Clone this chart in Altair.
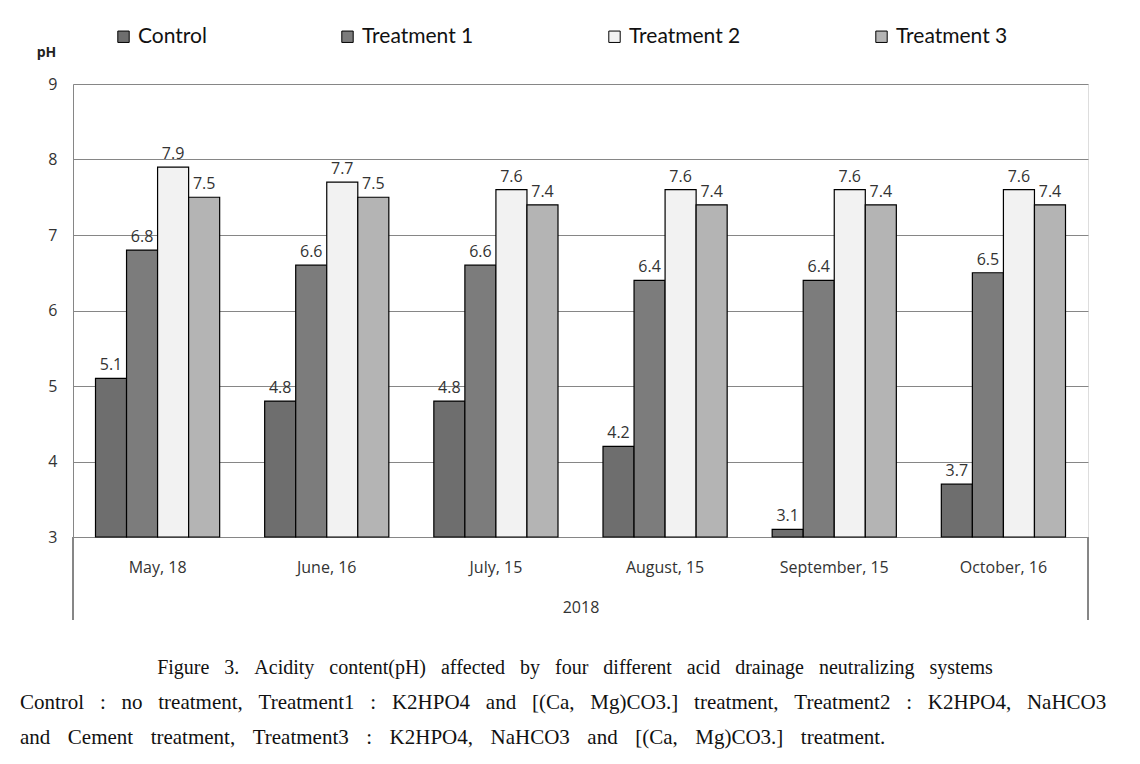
import altair as alt
import pandas as pd

months = ["May, 18", "June, 16", "July, 15", "August, 15", "September, 15", "October, 16"]
series = ["Control", "Treatment 1", "Treatment 2", "Treatment 3"]
control = [5.1, 4.8, 4.8, 4.2, 3.1, 3.7]
treatment1 = [6.8, 6.6, 6.6, 6.4, 6.4, 6.5]
treatment2 = [7.9, 7.7, 7.6, 7.6, 7.6, 7.6]
treatment3 = [7.5, 7.5, 7.4, 7.4, 7.4, 7.4]
fills = ["#6e6e6e", "#7c7c7c", "#f2f2f2", "#b4b4b4"]
y_ticks = [3, 4, 5, 6, 7, 8, 9]

caption_lines = [
    "Figure 3. Acidity content(pH) affected by four different acid drainage neutralizing systems",
    "Control : no treatment, Treatment1 : K2HPO4 and [(Ca, Mg)CO3.] treatment, Treatment2 : K2HPO4, NaHCO3",
    "and Cement treatment, Treatment3 : K2HPO4, NaHCO3 and [(Ca, Mg)CO3.] treatment.",
]
gap_fill = [" \u00a0\u00a0", " \u00a0\u00a0", " \u00a0\u00a0\u200a"]

rows = []
for s, vals in zip(series, [control, treatment1, treatment2, treatment3]):
    for m, v in zip(months, vals):
        rows.append({"month": m, "series": s, "pH": v})
df = pd.DataFrame(rows)

W, H = 1015, 453
SANS = "Open Sans"

x_enc = alt.X("month:N", sort=months,
              scale=alt.Scale(paddingInner=0.266, paddingOuter=0.133),
              axis=alt.Axis(title="2018", labelPadding=22, titlePadding=24,
                            ticks=False, domainColor="#868686", labelAngle=0,
                            labelFont=SANS, labelFontSize=16, labelColor="#333333",
                            titleFont=SANS, titleFontSize=16, titleFontWeight="normal",
                            titleColor="#333333"))
xo_enc = alt.XOffset("series:N", sort=series, scale=alt.Scale(paddingInner=0, paddingOuter=0))
y_enc = alt.Y("pH:Q", scale=alt.Scale(domain=[3, 9], zero=False, nice=False),
              axis=alt.Axis(values=y_ticks, format="d", title="pH", titleAngle=0,
                            titleX=-27, titleY=-25,
                            titleAlign="center", titleFont=SANS, titleFontSize=14,
                            titleFontWeight="bold", titleColor="#222222",
                            ticks=False, labelPadding=16, domainColor="#868686",
                            gridColor="#868686", labelFont=SANS, labelFontSize=16,
                            labelColor="#333333"))

bars = alt.Chart(df).mark_bar(stroke="black", strokeWidth=1.2).encode(
    x=x_enc, xOffset=xo_enc, y=y_enc, y2=alt.datum(3),
    fill=alt.Fill("series:N", sort=series,
                  scale=alt.Scale(domain=series, range=fills),
                  legend=alt.Legend(title=None, orient="none", direction="horizontal",
                                    legendX=40, legendY=-58, columns=4, columnPadding=130,
                                    symbolType="square", symbolSize=130,
                                    symbolStrokeColor="black", symbolStrokeWidth=1,
                                    labelFont="Lato", labelFontSize=21, labelColor="#111111",
                                    labelOffset=4)),
)

labels = alt.Chart(df).mark_text(baseline="bottom", dy=-5, font=SANS, fontSize=16,
                                 color="#333333").encode(
    x=alt.X("month:N", sort=months), xOffset=alt.XOffset("series:N", sort=series),
    y="pH:Q", text=alt.Text("pH:Q", format=".1f"),
)

left_line = alt.Chart(df).mark_rule(color="#868686").encode(
    x=alt.value(0), y=alt.value(H), y2=alt.value(H + 83))
right_line = alt.Chart(df).mark_rule(color="#868686").encode(
    x=alt.value(W), y=alt.value(H), y2=alt.value(H + 83))

cap_df = pd.DataFrame({"line": [l.replace(" ", g) for l, g in zip(caption_lines, gap_fill)],
                       "idx": [0, 1, 2]})
cap1 = alt.Chart(cap_df[cap_df.idx == 0]).mark_text(
    font="Liberation Serif", fontSize=20, color="#111111", align="center", baseline="middle"
).encode(text="line:N", x=alt.value(502), y=alt.value(584))
cap2 = alt.Chart(cap_df[cap_df.idx == 1]).mark_text(
    font="Liberation Serif", fontSize=21, color="#111111", align="left", baseline="middle"
).encode(text="line:N", x=alt.value(-53), y=alt.value(619))
cap3 = alt.Chart(cap_df[cap_df.idx == 2]).mark_text(
    font="Liberation Serif", fontSize=21, color="#111111", align="left", baseline="middle"
).encode(text="line:N", x=alt.value(-53), y=alt.value(654))

chart = alt.layer(bars, labels, left_line, right_line, cap1, cap2, cap3).properties(
    width=W, height=H,
    autosize=alt.AutoSizeParams(type="none"),
    padding={"left": 65, "top": 76, "right": 44, "bottom": 219},
).configure_view(stroke=None).configure(background="white")

chart.save("out.html", embed_options={"renderer": "svg", "actions": False})
